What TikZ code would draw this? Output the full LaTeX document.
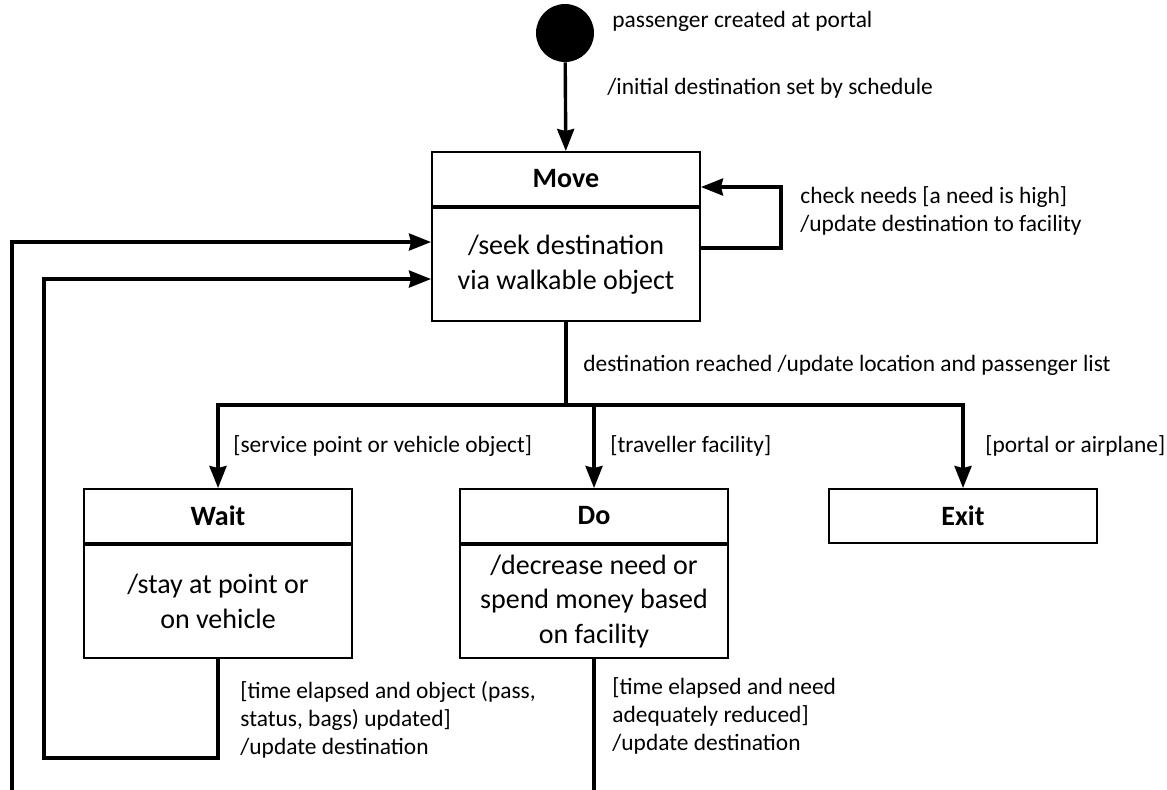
\documentclass[tikz,border=0pt]{standalone}
\usepackage{fontspec}
\setmainfont{Carlito}
\usetikzlibrary{positioning,arrows.meta}

\begin{document}
\begin{tikzpicture}[x=0.5pt, y=-0.5pt,
  statetitle/.style={draw, line width=1pt, rectangle, minimum width=134pt, minimum height=27pt, inner sep=0pt, font=\fontsize{14}{17}\selectfont\bfseries},
  statebody/.style={draw, line width=1pt, rectangle, minimum width=134pt, minimum height=56.5pt, inner sep=0pt, align=center, font=\fontsize{14}{17.25}\selectfont},
  divider/.style={line width=1.5pt},
  flow/.style={-{Stealth[length=11pt,width=8.5pt,inset=1pt]}, line width=1.7pt},
  trans/.style={line width=1.7pt},
  guard/.style={anchor=west, inner sep=0pt, align=left, font=\fontsize{11.7}{14}\selectfont}]
\useasboundingbox (0,0) rectangle (1167,789);
\clip (0,0) rectangle (1167,789);

% Initial state
\node[circle, fill=black, minimum size=29pt, inner sep=0pt] (start) at (565,33) {};
\node[guard] (created) at (612,21) {passenger created at portal};

% States
\node[statetitle] (movetitle) at (566,179) {Move};
\node[statebody, below=0pt of movetitle] (movebody) {/seek destination\\via walkable object};
\node[statetitle] (waittitle) at (218,516) {Wait};
\node[statebody, below=0pt of waittitle] (waitbody) {/stay at point or\\on vehicle};
\node[statetitle] (dotitle) at (594,516) {Do};
\node[statebody, below=0pt of dotitle] (dobody) {/decrease need or\\spend money based\\on facility};
\node[statetitle] (exittitle) at (963,516) {Exit};

\draw[divider] (movebody.north west) -- (movebody.north east);
\draw[divider] (waitbody.north west) -- (waitbody.north east);
\draw[divider] (dobody.north west) -- (dobody.north east);

% Transitions
\draw[flow] (start) -- (movetitle);
\node[guard] (initial) at (607,88) {/initial destination set by schedule};

\draw[flow] (movebody.east |- 0,248) -| (781,187) -- (movetitle.east |- 0,187);
\node[guard] (needs) at (800,211) {check needs [a need is high]\\/update destination to facility};

\coordinate (fork) at (566,405);
\draw[trans] (movebody.south) -- (fork);
\node[guard] (reached) at (583,365) {destination reached /update location and passenger list};
\draw[flow] (fork) -| (waittitle.north);
\draw[flow] (fork) -| (dotitle.north);
\draw[flow] (fork) -| (exittitle.north);
\node[guard] (service) at (233,446) {[service point or vehicle object]};
\node[guard] (facility) at (610,446) {[traveller facility]};
\node[guard] (portal) at (985,446) {[portal or airplane]};

% Back to Move
\draw[flow] (waitbody.south) |- (44,758) |- (movebody.west |- 0,279);
\node[guard] (waitdone) at (240,720) {[time elapsed and object (pass,\\status, bags) updated]\\/update destination};
\draw[flow] (dobody.south) |- (12,800) |- (movebody.west |- 0,242);
\node[guard] (dodone) at (612,716) {[time elapsed and need\\adequately reduced]\\/update destination};
\end{tikzpicture}
\end{document}
